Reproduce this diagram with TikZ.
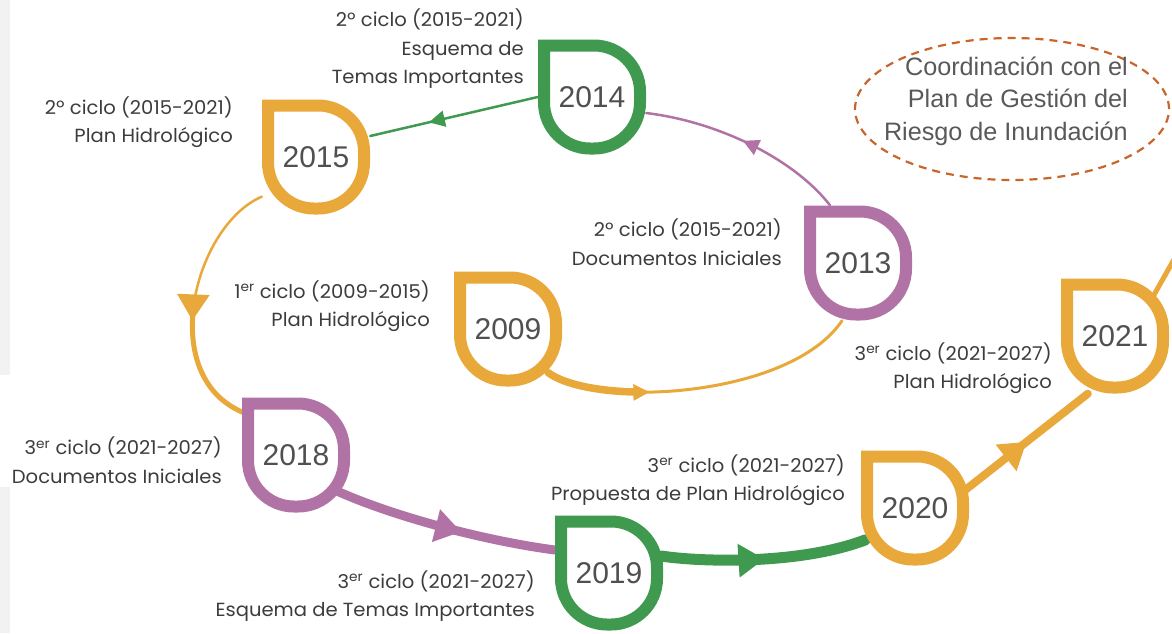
\documentclass[tikz,border=0pt]{standalone}
\usepackage{fontspec}
\setmainfont{Liberation Sans}
\newfontfamily\labfont{Poppins}[FakeStretch=1.03]
\usetikzlibrary{arrows.meta,decorations.markings,shapes.geometric,calc}
\definecolor{cgreen}{HTML}{3F9A50}
\definecolor{corange}{HTML}{E8A83A}
\definecolor{cpurple}{HTML}{B173A6}
\definecolor{ctext}{HTML}{3C3C3C}
\definecolor{cyear}{HTML}{505050}
\definecolor{cdash}{HTML}{C8652B}
\definecolor{cstrip}{HTML}{F2F2F2}
\pgfdeclarelayer{bg}
\pgfsetlayers{bg,main}
\tikzset{
  pics/drop/.style={code={
    \draw[line width=12pt, draw=#1, fill=white, line join=miter]
      (-48,-51.5) -- (2,-51.5) arc[start angle=-90,end angle=0,radius=46]
      -- (48,5.5) arc[start angle=0,end angle=90,radius=46]
      -- (-2,51.5) arc[start angle=90,end angle=180,radius=46] -- cycle;
  }},
  yeartext/.style={minimum width=108pt, minimum height=115pt, inner sep=0pt,
    font=\fontsize{30}{30}\selectfont, text=cyear},
  lab/.style={font=\labfont\fontsize{19}{28.5}\selectfont, text=ctext,
    align=right, anchor=east, inner sep=0pt},
  conn/.style={line cap=round},
  arrS/.style={postaction={decorate,decoration={markings,
    mark=at position #1 with {\arrow{Triangle[length=16pt,width=16pt]}}}}},
  arrL/.style={postaction={decorate,decoration={markings,
    mark=at position #1 with {\arrow{Triangle[length=26pt,width=32pt]}}}}},
}
\begin{document}
\begin{tikzpicture}[x=1pt,y=-1pt]
\useasboundingbox (0,0) rectangle (1172,633);
% drops and years
\pic at (592,97) {drop=cgreen};   \node[yeartext] (y2014) at (592,97) {2014};
\pic at (316,157) {drop=corange}; \node[yeartext] (y2015) at (316,157) {2015};
\pic at (508,329) {drop=corange}; \node[yeartext] (y2009) at (508,329) {2009};
\pic at (858,263) {drop=cpurple}; \node[yeartext] (y2013) at (858,263) {2013};
\pic at (296,455) {drop=cpurple}; \node[yeartext] (y2018) at (296,455) {2018};
\pic at (609,573) {drop=cgreen};  \node[yeartext] (y2019) at (609,573) {2019};
\pic at (915,508) {drop=corange}; \node[yeartext] (y2020) at (915,508) {2020};
\pic at (1115,336) {drop=corange};\node[yeartext] (y2021) at (1115,336) {2021};
\coordinate (exit) at (1185,240);
% labels
\node[lab] (l1) at (524,49) {2º ciclo (2015-2021)\\Esquema de\\Temas Importantes};
\node[lab] (l2) at (233,122) {2º ciclo (2015-2021)\\Plan Hidrológico};
\node[lab] (l3) at (782,242) {2º ciclo (2015-2021)\\Documentos Iniciales};
\node[lab] (l4) at (430,306) {1\textsuperscript{er} ciclo (2009-2015)\\Plan Hidrológico};
\node[lab] (l5) at (1052,368) {3\textsuperscript{er} ciclo (2021-2027)\\Plan Hidrológico};
\node[lab] (l6) at (222,460) {3\textsuperscript{er} ciclo (2021-2027)\\Documentos Iniciales};
\node[lab] (l7) at (845,480) {3\textsuperscript{er} ciclo (2021-2027)\\Propuesta de Plan Hidrológico};
\node[lab] (l8) at (535,596) {3\textsuperscript{er} ciclo (2021-2027)\\Esquema de Temas Importantes};
% coordination ellipse
\node[ellipse, draw=cdash, line width=2.2pt, dash pattern=on 8pt off 6pt,
  minimum width=314pt, minimum height=142pt, inner sep=0pt] (ell) at (1012,109) {};
\node[font=\fontsize{25.2}{32.5}\selectfont, text=ctext!85, align=right, anchor=east,
  inner sep=0pt] (coordtxt) at (1128,101) {Coordinación con el\\Plan de Gestión del\\Riesgo de Inundación};
% connectors
\begin{pgfonlayer}{bg}
\fill[cstrip] (0,0) rectangle (10,375);
\fill[cstrip] (0,487) rectangle (10,633);
\draw[conn, cpurple, line width=2.5pt, arrS=0.52]
  ($(y2013.north)+(-28,0)$) .. controls (795,160) and (720,122) .. ($(y2014.east)+(0,16)$);
\draw[conn, cgreen, line width=2.5pt, arrS=0.65]
  (y2014.west) -- ($(y2015.east)+(0,-21)$);
% 2015 -> 2018 (thin, thicker after the arrow)
\draw[conn, corange, line width=2.5pt, arrL=0.57]
  ($(y2015.south west)+(0,-18)$) .. controls (195,225) and (155,375) .. ($(y2018.north west)+(1,15)$);
\draw[conn, corange, line width=5pt]
  (192.8,314.9) .. controls (189.7,356) and (203.4,395.6) .. ($(y2018.north west)+(1,15)$);
% 2009 -> 2013 (thick at start, thin at end)
\draw[conn, corange, line width=3pt, arrS=0.33]
  ($(y2009.south east)+(-14,-14)$) .. controls (595,408) and (790,398) .. ($(y2013.south)+(-16,0)$);
\draw[conn, corange, line width=7.5pt]
  ($(y2009.south east)+(-14,-14)$) .. controls (564.5,384.6) and (599,391.6) .. (639.3,392.1);
\draw[conn, cpurple, line width=9pt, arrL=0.58]
  ($(y2018.south east)+(-14,-22)$) .. controls (390,515) and (480,540) .. ($(y2019.west)+(0,-23)$);
\draw[conn, cgreen, line width=11pt, arrL=0.5]
  ($(y2019.east)+(-2,-17)$) .. controls (700,562) and (800,565) .. ($(y2020.south west)+(5,-26)$);
\draw[conn, corange, line width=8pt, arrL=0.5]
  ($(y2020.east)+(-4,-18)$) -- ($(y2021.south west)+(27,0)$);
\draw[conn, corange, line width=5pt]
  ($(y2021.east)+(-17,-38)$) -- (exit);
\end{pgfonlayer}
\end{tikzpicture}
\end{document}
